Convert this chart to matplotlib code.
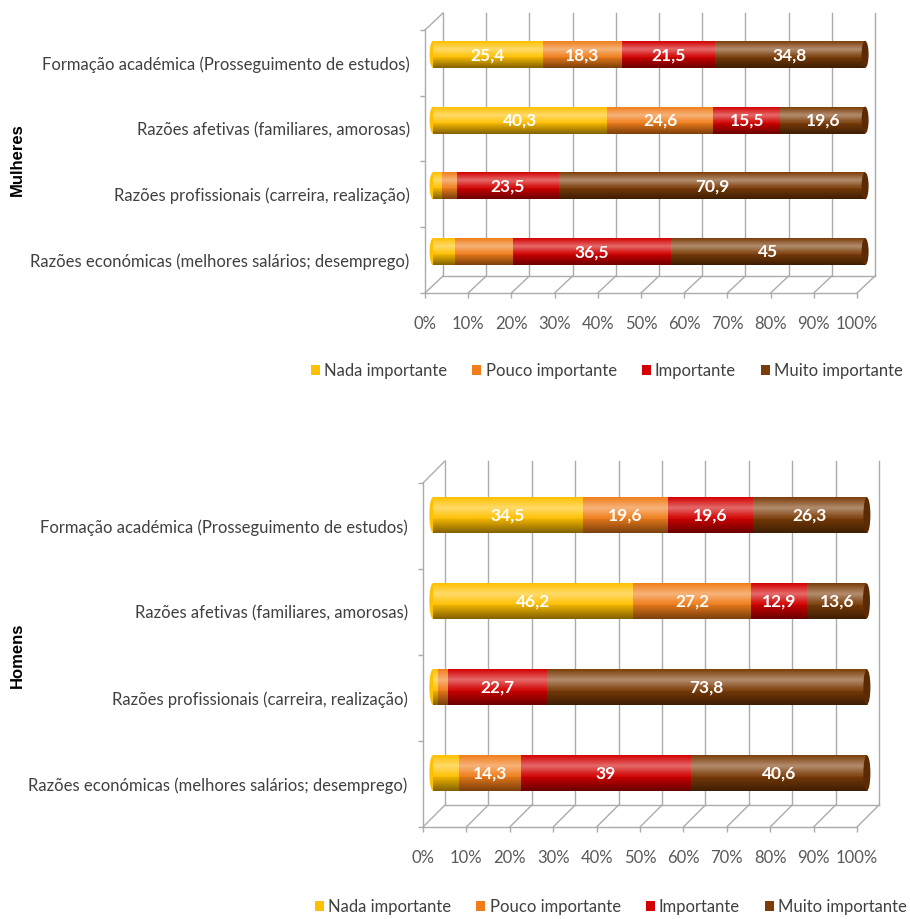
import numpy as np
import matplotlib
matplotlib.use("Agg")
import matplotlib.pyplot as plt
from matplotlib.patches import Patch, Ellipse

plt.rcParams['font.family'] = ['Lato', 'DejaVu Sans']

categorias = [
    "Formação académica (Prosseguimento de estudos)",
    "Razões afetivas (familiares, amorosas)",
    "Razões profissionais (carreira, realização)",
    "Razões económicas (melhores salários; desemprego)",
]
niveis = ["Nada importante", "Pouco importante", "Importante", "Muito importante"]
cores = ["#FFC000", "#F07D1A", "#D20000", "#7B3C08"]
ticks_pct = list(range(0, 101, 10))

mulheres_nada = [25.4, 40.3, 2.0, 5.0]
mulheres_pouco = [18.3, 24.6, 3.6, 13.5]
mulheres_imp = [21.5, 15.5, 23.5, 36.5]
mulheres_muito = [34.8, 19.6, 70.9, 45.0]

homens_nada = [34.5, 46.2, 1.2, 6.1]
homens_pouco = [19.6, 27.2, 2.3, 14.3]
homens_imp = [19.6, 12.9, 22.7, 39.0]
homens_muito = [26.3, 13.6, 73.8, 40.6]

# segments whose value is not printed on the bar (row, level)
mulheres_sem_rotulo = [(3, 1)]
homens_sem_rotulo = []

W, H = 910, 919
fig = plt.figure(figsize=(W / 100, H / 100), dpi=100)
fig.patch.set_facecolor("white")

GRID = "#ABABAB"

# vertical light/dark profile used to make the bars look like cylinders
k = 40
t = (np.arange(k) + 0.5) / k
a_w = np.clip(0.42 * (1 - np.abs(t - 0.3) / 0.3), 0, None)
a_b = np.clip(0.5 * (t - 0.55) / 0.45, 0, None)
brilho = np.zeros((k, 1, 4))
brilho[:, 0, :3] = np.where(a_w[:, None] > 0, 1.0, 0.0)
brilho[:, 0, 3] = a_w + a_b


def fmt(v):
    if float(v).is_integer():
        return str(int(v))
    return f"{v:.1f}".replace(".", ",")


def painel(box, depth, serie, sem_rotulo, titulo, titulo_y, legenda_xy):
    left, top, right, bottom = box
    ax = fig.add_axes([left / W, 1 - bottom / H, (right - left) / W, (bottom - top) / H])
    n = len(categorias)

    # pixel -> data conversion for the fake 3D depth
    sx = 100 / (right - left)
    sy = n / (bottom - top)
    Dx, Dy = depth[0] * sx, depth[1] * sy
    bx, by = Dx * 0.45, Dy * 0.5

    # back wall grid + floor + left wall
    for x in ticks_pct:
        ax.plot([x + Dx, x + Dx], [-0.5 - Dy, n - 0.5 - Dy], color=GRID, lw=1, clip_on=False, zorder=1)
        ax.plot([x, x + Dx], [n - 0.5, n - 0.5 - Dy], color=GRID, lw=1, clip_on=False, zorder=1)
    ax.plot([Dx, 100 + Dx], [n - 0.5 - Dy] * 2, color=GRID, lw=1, clip_on=False, zorder=1)
    ax.plot([0, Dx], [-0.5, -0.5 - Dy], color=GRID, lw=1, clip_on=False, zorder=1)

    y = np.arange(n) - by
    h = 0.41
    lefts = np.zeros(n)
    for j, vals in enumerate(serie):
        vals = np.array(vals)
        ax.barh(y, vals, left=lefts + bx, height=h, color=cores[j], edgecolor="none",
                zorder=3, clip_on=False)
        for i, v in enumerate(vals):
            if v >= 10 and (i, j) not in sem_rotulo:
                ax.text(lefts[i] + bx + v / 2, y[i] + 0.01, fmt(v), color="white", fontsize=12.5,
                        fontweight="bold", ha="center", va="center", zorder=6)
        lefts += vals

    # shading and rounded ends of the cylinders
    cap_w = 7 * sx
    for i in range(n):
        ax.imshow(brilho, extent=(bx, lefts[i] + bx, y[i] + h / 2, y[i] - h / 2), aspect="auto",
                  interpolation="bilinear", zorder=4, clip_on=False)
        ax.add_patch(Ellipse((bx, y[i]), cap_w, h, facecolor=cores[0], edgecolor="none",
                             zorder=2.9, clip_on=False))
        ax.add_patch(Ellipse((lefts[i] + bx, y[i]), cap_w, h, facecolor="#5C2A04", edgecolor="none",
                             zorder=5, clip_on=False))

    ax.set_xlim(0, 100)
    ax.set_ylim(n - 0.5, -0.5)
    for sp in ["top", "right"]:
        ax.spines[sp].set_visible(False)
    for sp in ["left", "bottom"]:
        ax.spines[sp].set_color(GRID)
        ax.spines[sp].set_linewidth(1)
    ax.set_facecolor("none")

    ax.set_xticks(ticks_pct)
    ax.set_xticklabels([f"{t}%" for t in ticks_pct])
    ax.tick_params(axis="x", length=3.5, width=1, color=GRID, pad=13, labelsize=12, labelcolor="#595959")
    ax.set_yticks(np.arange(n))
    ax.set_yticklabels(categorias)
    ax.set_yticks(np.arange(n + 1) - 0.5, minor=True)
    ax.tick_params(axis="y", which="major", length=0, pad=11, labelsize=12, labelcolor="#404040")
    ax.tick_params(axis="y", which="minor", length=3.5, width=1, color=GRID)

    fig.text(17 / W, 1 - titulo_y / H, titulo, rotation=90, ha="center", va="center",
             fontsize=12, fontweight="bold", family="Liberation Sans", color="black")

    handles = [Patch(facecolor=c, edgecolor="none") for c in cores]
    fig.legend(handles, niveis, loc="center", bbox_to_anchor=(legenda_xy[0] / W, 1 - legenda_xy[1] / H),
               ncol=4, frameon=False, fontsize=12, handlelength=0.55, handleheight=0.55,
               handletextpad=0.25, columnspacing=1.5, labelcolor="#404040")
    return ax


painel((425, 30, 857, 293), (18, 17),
       [mulheres_nada, mulheres_pouco, mulheres_imp, mulheres_muito],
       mulheres_sem_rotulo, "Mulheres", 160, (607, 371))
painel((423, 483, 857, 827), (22, 22),
       [homens_nada, homens_pouco, homens_imp, homens_muito],
       homens_sem_rotulo, "Homens", 655, (611, 907))

fig.savefig("out.png", dpi=100)
